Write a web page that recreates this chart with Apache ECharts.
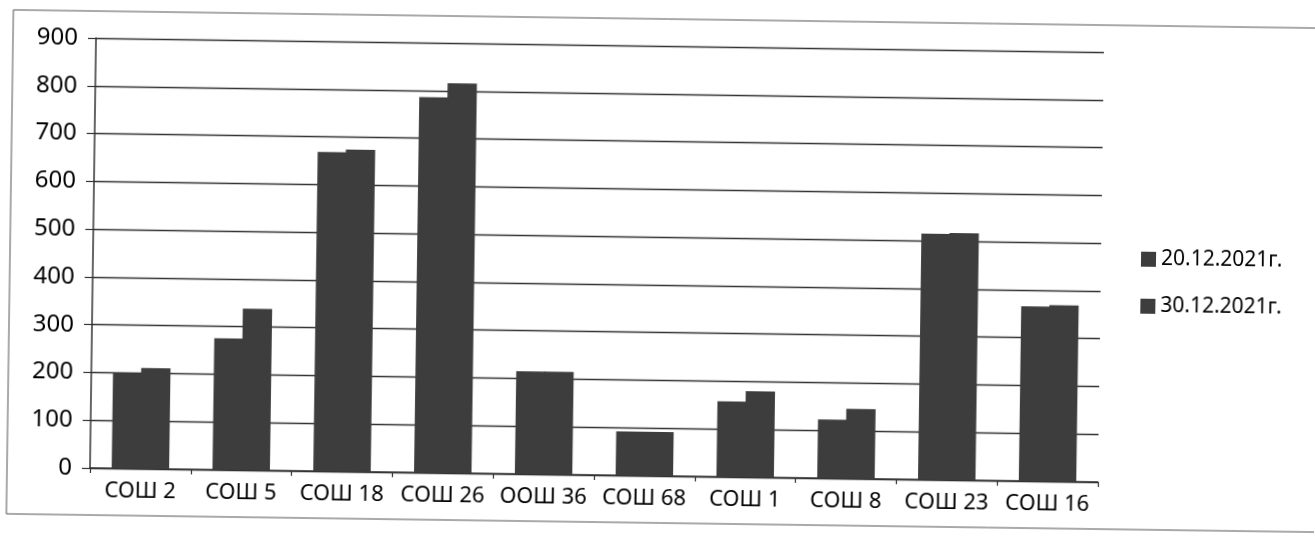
<!DOCTYPE html>
<html>
<head>
<meta charset="utf-8">
<script src="https://cdn.jsdelivr.net/npm/echarts@6/dist/echarts.min.js"></script>
<style>
  html, body { margin: 0; padding: 0; background: #fff; overflow: hidden; }
  #chart {
    width: 1315px;
    height: 548px;
    /* the scan is a little tilted */
    transform: rotate(0.8deg);
    transform-origin: 90px 468px;
  }
</style>
</head>
<body>
<div id="chart"></div>
<script>
// data
var categories = ['СОШ 2', 'СОШ 5', 'СОШ 18', 'СОШ 26', 'ООШ 36', 'СОШ 68', 'СОШ 1', 'СОШ 8', 'СОШ 23', 'СОШ 16']
var seriesNames = ['20.12.2021г.', '30.12.2021г.']
var values20 = [200, 275, 668, 786, 215, 92, 158, 123, 515, 366]
var values30 = [211, 338, 674, 816, 215, 92, 180, 146, 517, 369]
var yTicks = [0, 100, 200, 300, 400, 500, 600, 700, 800, 900]

var chart = echarts.init(document.getElementById('chart'))

var font = '"Noto Sans", "Open Sans", sans-serif'
var barColor = '#3d3d3d'

chart.setOption({
  animation: false,
  textStyle: { fontFamily: font },
  graphic: [{
    // outer frame of the chart area
    type: 'rect',
    shape: { x: 7, y: 11, width: 1400, height: 504 },
    style: { fill: 'none', stroke: '#555', lineWidth: 1 },
    silent: true
  }],
  grid: {
    left: 90,
    top: 38,
    width: 1008,
    height: 430,
    containLabel: false
  },
  legend: {
    orient: 'vertical',
    left: 1133,
    top: 229,
    itemWidth: 15,
    itemHeight: 15,
    itemGap: 26,
    itemTextGap: 5,
    icon: 'rect',
    data: seriesNames,
    textStyle: { fontFamily: font, fontSize: 21, color: '#000' }
  },
  xAxis: {
    type: 'category',
    data: categories,
    axisLine: { show: true, lineStyle: { color: '#333', width: 1.5 } },
    axisTick: { show: true, alignWithLabel: false, length: 5, lineStyle: { color: '#333', width: 1.2 } },
    axisLabel: { color: '#000', fontSize: 22, margin: 12, interval: 0 },
    splitLine: { show: false }
  },
  yAxis: {
    type: 'value',
    min: yTicks[0],
    max: yTicks[yTicks.length - 1],
    interval: 100,
    axisLine: { show: true, lineStyle: { color: '#333', width: 1.5 } },
    axisTick: { show: true, length: 8, lineStyle: { color: '#333', width: 1.2 } },
    axisLabel: { color: '#000', fontSize: 24, margin: 18 },
    splitLine: { show: true, lineStyle: { color: '#333', width: 1.3 } }
  },
  series: [
    {
      name: seriesNames[0],
      type: 'bar',
      data: values20,
      barGap: '-4%', // pair of bars touch with no seam
      barCategoryGap: '43%',
      itemStyle: { color: barColor }
    },
    {
      name: seriesNames[1],
      type: 'bar',
      data: values30,
      barGap: '-4%',
      barCategoryGap: '43%',
      itemStyle: { color: barColor }
    }
  ]
})
</script>
</body>
</html>
